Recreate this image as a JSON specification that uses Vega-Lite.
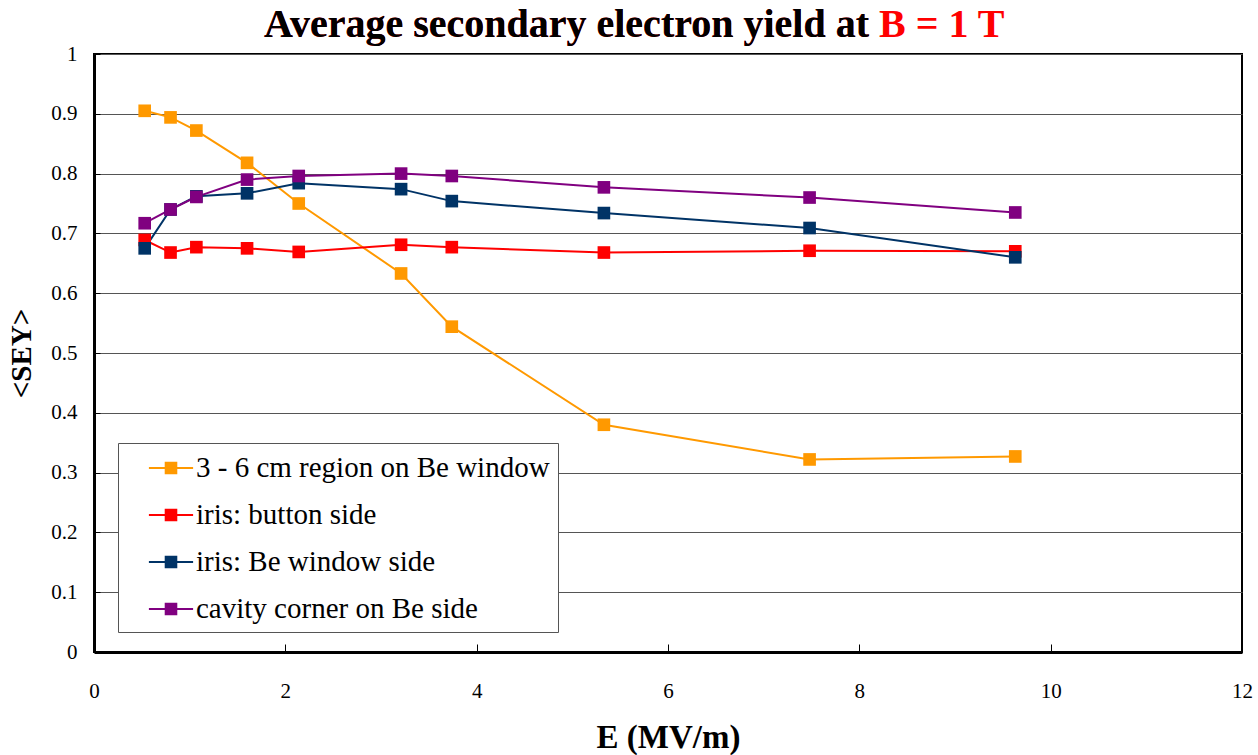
{
  "$schema": "https://vega.github.io/schema/vega-lite/v6.json",
  "autosize": {"type": "none"},
  "width": 1148,
  "height": 598,
  "padding": {"left": 94, "top": 54, "right": 16, "bottom": 103},
  "background": "white",
  "title": {
    "text": "Average secondary electron yield at B = 1 T",
    "subtitle": "Average secondary electron yield at",
    "color": "#FF0000",
    "subtitleColor": "#000000",
    "font": "Liberation Serif, Times New Roman, serif",
    "subtitleFont": "Liberation Serif, Times New Roman, serif",
    "fontSize": 40,
    "subtitleFontSize": 40,
    "fontWeight": "bold",
    "subtitleFontWeight": "bold",
    "subtitlePadding": -40,
    "anchor": "start",
    "align": "left",
    "frame": "group",
    "dx": 170,
    "offset": -2
  },
  "data": {
    "values": [
      {"series": "3 - 6 cm region on Be window", "E": 0.53, "SEY": 0.905},
      {"series": "3 - 6 cm region on Be window", "E": 0.80, "SEY": 0.894},
      {"series": "3 - 6 cm region on Be window", "E": 1.07, "SEY": 0.872},
      {"series": "3 - 6 cm region on Be window", "E": 1.60, "SEY": 0.818},
      {"series": "3 - 6 cm region on Be window", "E": 2.14, "SEY": 0.750},
      {"series": "3 - 6 cm region on Be window", "E": 3.21, "SEY": 0.633},
      {"series": "3 - 6 cm region on Be window", "E": 3.74, "SEY": 0.544},
      {"series": "3 - 6 cm region on Be window", "E": 5.33, "SEY": 0.380},
      {"series": "3 - 6 cm region on Be window", "E": 7.48, "SEY": 0.322},
      {"series": "3 - 6 cm region on Be window", "E": 9.63, "SEY": 0.327},
      {"series": "iris: button side", "E": 0.53, "SEY": 0.689},
      {"series": "iris: button side", "E": 0.80, "SEY": 0.668},
      {"series": "iris: button side", "E": 1.07, "SEY": 0.677},
      {"series": "iris: button side", "E": 1.60, "SEY": 0.675},
      {"series": "iris: button side", "E": 2.14, "SEY": 0.669},
      {"series": "iris: button side", "E": 3.21, "SEY": 0.681},
      {"series": "iris: button side", "E": 3.74, "SEY": 0.677},
      {"series": "iris: button side", "E": 5.33, "SEY": 0.668},
      {"series": "iris: button side", "E": 7.48, "SEY": 0.671},
      {"series": "iris: button side", "E": 9.63, "SEY": 0.670},
      {"series": "iris: Be window side", "E": 0.53, "SEY": 0.675},
      {"series": "iris: Be window side", "E": 0.80, "SEY": 0.740},
      {"series": "iris: Be window side", "E": 1.07, "SEY": 0.762},
      {"series": "iris: Be window side", "E": 1.60, "SEY": 0.767},
      {"series": "iris: Be window side", "E": 2.14, "SEY": 0.784},
      {"series": "iris: Be window side", "E": 3.21, "SEY": 0.774},
      {"series": "iris: Be window side", "E": 3.74, "SEY": 0.754},
      {"series": "iris: Be window side", "E": 5.33, "SEY": 0.734},
      {"series": "iris: Be window side", "E": 7.48, "SEY": 0.709},
      {"series": "iris: Be window side", "E": 9.63, "SEY": 0.660},
      {"series": "cavity corner on Be side", "E": 0.53, "SEY": 0.717},
      {"series": "cavity corner on Be side", "E": 0.80, "SEY": 0.740},
      {"series": "cavity corner on Be side", "E": 1.07, "SEY": 0.761},
      {"series": "cavity corner on Be side", "E": 1.60, "SEY": 0.790},
      {"series": "cavity corner on Be side", "E": 2.14, "SEY": 0.796},
      {"series": "cavity corner on Be side", "E": 3.21, "SEY": 0.800},
      {"series": "cavity corner on Be side", "E": 3.74, "SEY": 0.796},
      {"series": "cavity corner on Be side", "E": 5.33, "SEY": 0.777},
      {"series": "cavity corner on Be side", "E": 7.48, "SEY": 0.760},
      {"series": "cavity corner on Be side", "E": 9.63, "SEY": 0.735}
    ]
  },
  "encoding": {
    "x": {
      "field": "E", "type": "quantitative",
      "scale": {"domain": [0, 12], "nice": false, "zero": true},
      "axis": {
        "title": "E (MV/m)",
        "values": [0, 2, 4, 6, 8, 10, 12],
        "grid": false,
        "domainColor": "#000000", "domainWidth": 3,
        "ticks": true, "tickSize": -8, "tickColor": "#000000", "tickWidth": 1,
        "labelFont": "Liberation Serif, Times New Roman, serif", "labelFontSize": 21, "labelColor": "#000000",
        "labelPadding": 36, "labelFlush": false,
        "titleFont": "Liberation Serif, Times New Roman, serif", "titleFontSize": 33, "titleFontWeight": "bold",
        "titleColor": "#000000", "titlePadding": 20
      }
    },
    "y": {
      "field": "SEY", "type": "quantitative",
      "scale": {"domain": [0, 1], "nice": false},
      "axis": {
        "title": "<SEY>",
        "values": [0, 0.1, 0.2, 0.3, 0.4, 0.5, 0.6, 0.7, 0.8, 0.9, 1],
        "format": "~f",
        "grid": true, "gridColor": "#555555", "gridWidth": 1,
        "domainColor": "#000000", "domainWidth": 3,
        "ticks": true, "tickSize": -6, "tickColor": "#000000",
        "labelFont": "Liberation Serif, Times New Roman, serif", "labelFontSize": 21, "labelColor": "#000000",
        "labelPadding": 23, "labelFlush": false,
        "titleFont": "Liberation Serif, Times New Roman, serif", "titleFontSize": 29, "titleFontWeight": "bold",
        "titleColor": "#000000", "titlePadding": 14
      }
    },
    "color": {
      "field": "series", "type": "nominal",
      "sort": ["3 - 6 cm region on Be window", "iris: button side", "iris: Be window side", "cavity corner on Be side"],
      "scale": {
        "domain": ["3 - 6 cm region on Be window", "iris: button side", "iris: Be window side", "cavity corner on Be side"],
        "range": ["#FF9900", "#FF0000", "#003366", "#800080"]
      },
      "legend": {
        "title": null,
        "orient": "none",
        "legendX": 24,
        "legendY": 389,
        "fillColor": "#ffffff",
        "strokeColor": "#555555",
        "padding": 8,
        "rowPadding": 15,
        "symbolType": "M-1.3,-0.06H1.3V0.06H-1.3Z M-0.37,-0.37H0.37V0.37H-0.37Z",
        "symbolSize": 1156,
        "symbolStrokeWidth": 0,
        "symbolOpacity": 1,
        "symbolOffset": 28,
        "labelOffset": 8,
        "labelFont": "Liberation Serif, Times New Roman, serif",
        "labelFontSize": 29,
        "labelColor": "#000000",
        "labelLimit": 600
      }
    }
  },
  "layer": [
    {"mark": {"type": "line", "strokeWidth": 2}},
    {"mark": {"type": "point", "shape": "square", "filled": true, "size": 160, "opacity": 1}}
  ],
  "config": {
    "font": "Liberation Serif, Times New Roman, serif",
    "view": {"stroke": "#000000", "strokeWidth": 2},
    "axis": {"gridOpacity": 1}
  }
}
